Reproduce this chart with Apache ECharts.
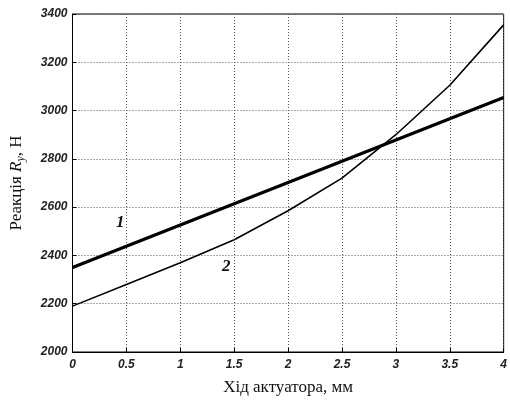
<!DOCTYPE html>
<html><head><meta charset="utf-8">
<script src="https://cdn.jsdelivr.net/npm/echarts@6/dist/echarts.min.js"></script>
<style>html,body{margin:0;padding:0;background:#fff}#c{width:510px;height:401px}</style>
</head><body><div id="c"></div>
<script>
var xTicks = [0, 0.5, 1, 1.5, 2, 2.5, 3, 3.5, 4];
var line1 = [2350, 2438, 2526, 2614, 2702, 2790, 2878, 2966, 3054];
var line2 = [2190, 2280, 2370, 2465, 2585, 2720, 2900, 3105, 3355];
var seriesLabels = ['1', '2'];

var chart = echarts.init(document.getElementById('c'));
function pairs(arr){ return xTicks.map(function(x,i){ return [x, arr[i]]; }); }
var tickFont = {fontFamily:'Liberation Sans', fontStyle:'italic', fontWeight:'bold', fontSize:12, color:'#222'};
chart.setOption({
  animation:false,
  grid:{left:71, right:4, top:14, bottom:44, show:true, borderColor:'#000', borderWidth:1},
  xAxis:{type:'value', min:0, max:4, interval:0.5,
    axisLine:{lineStyle:{color:'#000'}}, axisTick:{inside:true, length:4, lineStyle:{color:'#000'}},
    splitLine:{show:true, lineStyle:{color:'#555', type:[1,2], width:1}},
    axisLabel:Object.assign({margin:7, formatter:function(v){return String(v);}}, tickFont),
    name:'Хід актуатора, мм', nameLocation:'middle', nameGap:27,
    nameTextStyle:{fontFamily:'Liberation Serif', fontSize:17, color:'#111'}},
  yAxis:{type:'value', min:2000, max:3400, interval:200,
    axisLine:{lineStyle:{color:'#000'}}, axisTick:{inside:true, length:4, lineStyle:{color:'#000'}},
    splitLine:{show:true, lineStyle:{color:'#555', type:[1,2], width:1}},
    axisLabel:Object.assign({margin:5, formatter:function(v){return String(v);}}, tickFont),
    name:'{n|Реакція }{r|R}{s|y}{n|, Н}', nameLocation:'middle', nameGap:46,
    nameTextStyle:{rich:{
      n:{fontFamily:'Liberation Serif', fontSize:17, color:'#111'},
      r:{fontFamily:'Liberation Serif', fontStyle:'italic', fontSize:17, color:'#111'},
      s:{fontFamily:'Liberation Serif', fontStyle:'italic', fontSize:12, color:'#111', verticalAlign:'bottom', padding:[8,0,0,0]}
    }}},
  series:[
    {type:'line', data:pairs(line1), symbol:'none', lineStyle:{color:'#000', width:3.2}},
    {type:'line', data:pairs(line2), symbol:'none', lineStyle:{color:'#000', width:1.6}}
  ],
  graphic:[
    {type:'text', left:116, top:214, style:{text:seriesLabels[0], font:'italic bold 17px "Liberation Serif"', fill:'#111'}},
    {type:'text', left:222, top:258, style:{text:seriesLabels[1], font:'italic bold 17px "Liberation Serif"', fill:'#111'}}
  ]
});
</script></body></html>
